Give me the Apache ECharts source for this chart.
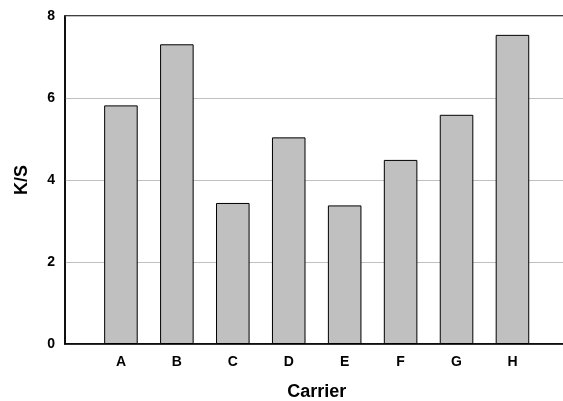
<!DOCTYPE html>
<html><head><meta charset="utf-8">
<script src="https://cdn.jsdelivr.net/npm/echarts@6/dist/echarts.min.js"></script>
<style>html,body{margin:0;padding:0;background:#fff;overflow:hidden}#c{width:563px;height:401px}</style>
</head><body><div id="c"></div>
<script>
const categories = ['A','B','C','D','E','F','G','H'];
const values = [5.82, 7.31, 3.44, 5.04, 3.38, 4.49, 5.59, 7.54];
const yTicks = [0, 2, 4, 6, 8];

const axisCats = [''].concat(categories, ['']);
const axisVals = ['-'].concat(values, ['-']);
const chart = echarts.init(document.getElementById('c'));
const font = 'Liberation Sans, Arial, sans-serif';
chart.setOption({
  animation: false,
  grid: { left: 65, top: 16, width: 503.4, height: 328, outerBoundsMode: 'none', containLabel: false,
          show: true, borderColor: '#000', borderWidth: 1.5 },
  xAxis: {
    type: 'category', data: axisCats, boundaryGap: false,
    name: 'Carrier', nameLocation: 'middle', nameGap: 39,
    nameTextStyle: { fontFamily: font, fontWeight: 'bold', fontSize: 18, color: '#000', letterSpacing: 0.7 },
    axisLine: { lineStyle: { color: '#000', width: 1.5 } },
    axisTick: { show: false },
    axisLabel: { fontFamily: font, fontWeight: 'bold', fontSize: 14, color: '#000', margin: 11, interval: 0 },
    splitLine: { show: false }
  },
  yAxis: {
    type: 'value', min: yTicks[0], max: yTicks[yTicks.length-1], interval: 2,
    name: 'K/S', nameLocation: 'middle', nameGap: 34,
    nameTextStyle: { fontFamily: font, fontWeight: 'bold', fontSize: 18, color: '#000' },
    axisLine: { show: true, lineStyle: { color: '#000', width: 1.5 } },
    axisTick: { show: false },
    axisLabel: { fontFamily: font, fontWeight: 'bold', fontSize: 14, color: '#000', margin: 10 },
    splitLine: { lineStyle: { color: '#c0c0c0', width: 1 } }
  },
  series: [{
    type: 'bar', data: axisVals, barWidth: '60%',
    itemStyle: { color: '#c0c0c0', borderColor: '#000', borderWidth: 1 }
  }]
});
</script></body></html>
